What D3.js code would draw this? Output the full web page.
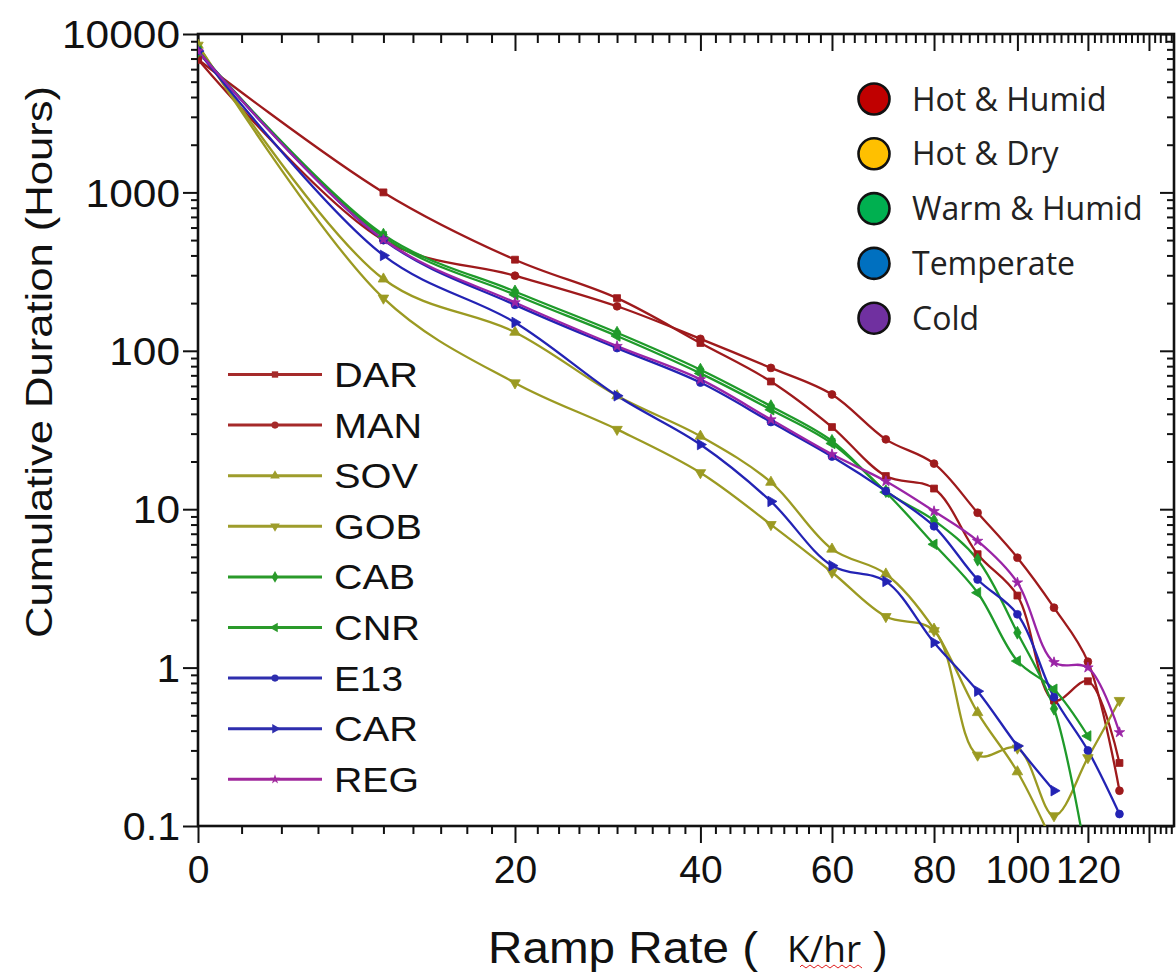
<!DOCTYPE html>
<html><head><meta charset="utf-8">
<script src="https://cdn.jsdelivr.net/npm/d3@7"></script>
<style>
html,body{margin:0;padding:0;background:#fff;}
svg{display:block;}
</style>
</head><body>
<svg id="chart" width="1176" height="974"></svg>
<script>
// ---------- data ----------
const rampRates = [0,10,20,30,40,50,60,70,80,90,100,110,120,130];
const seriesNames = ["DAR","MAN","SOV","GOB","CAB","CNR","E13","CAR","REG"];
const DAR = [6900,1000,376,215,112,64,33,16.2,13.5,5.2,2.85,0.62,0.82,0.25];
const MAN = [6900,500,298,191,119,78,53,27.6,19.4,9.5,4.94,2.39,1.09,0.167];
const SOV = [8500,284,131,52,28.9,14.8,5.6,3.9,1.75,0.52,0.22,0.075];
const GOB = [8500,215,62.7,31.9,17,8.0,4.0,2.1,1.71,0.28,0.31,0.116,0.27,0.62];
const CAB = [7800,541,237,130,76,44.7,27,13,8.5,4.8,1.66,0.55,0.055];
const CNR = [7800,525,226,124,72,42.5,26,12.8,6.0,2.97,1.10,0.73,0.37];
const E13 = [7800,500,195,104,63,35.5,21.5,13,7.8,3.6,2.17,0.65,0.30,0.119];
const CAR = [7800,400,151,52,25.6,11.2,4.4,3.5,1.44,0.71,0.32,0.167];
const REG = [7800,504,202,107,66,36.8,22.2,15,9.7,6.3,3.44,1.08,1.0,0.39];
const seriesValues = [DAR,MAN,SOV,GOB,CAB,CNR,E13,CAR,REG];

const xTickMajor = [0,20,40,60,80,100,120,140];
const xTickLabels = ["0","20","40","60","80","100","120",""];
const yTickMajor = [0.1,1,10,100,1000,10000];
const yTickLabels = ["0.1","1","10","100","1000","10000"];
const climateNames = ["Hot & Humid","Hot & Dry","Warm & Humid","Temperate","Cold"];

// ---------- styles ----------
const seriesColors = ["#9e1a1c","#9e1a1c","#9b9a22","#9b9a22","#1f9a2a","#1f9a2a","#2323b4","#2323b4","#9a24a6"];
const legendLineColors = ["#a52a2a","#a52a2a","#9e9d2c","#9e9d2c","#2a9a2a","#2a9a2a","#2e2eae","#2e2eae","#a0289c"];
const markerTypes = ["square","circle","up","down","diamond","left","circle","right","star"];
const climateColors = ["#c00000","#ffc000","#00b050","#0070c0","#7030a0"];

const W = 1176, H = 974;
const L = 198, R = 1174, T = 34, B = 826;
const svg = d3.select("#chart");

const x = d3.scaleSymlog().constant(20).domain([0,149]).range([L,R]);
const y = d3.scaleLog().domain([0.1,10000]).range([B,T]);

const xMinor = d3.range(0,149,2).filter(v => v % 20 !== 0);
const yMinor = [];
[0.1,1,10,100,1000].forEach(d => { for (let k=2;k<=9;k++) yMinor.push(+(d*k).toPrecision(3)); });

// clip
svg.append("defs").append("clipPath").attr("id","plotclip")
  .append("rect").attr("x",L).attr("y",T).attr("width",R-L).attr("height",B-T);

function styleAxis(g){
  g.select(".domain").remove();
  g.selectAll(".tick line").attr("stroke","#111").attr("stroke-width",2);
}

// bottom
const gb = svg.append("g").attr("transform",`translate(0,${B})`)
  .call(d3.axisBottom(x).tickValues(xTickMajor).tickSize(17).tickPadding(12)
    .tickFormat((d,i)=>xTickLabels[i]));
styleAxis(gb);
gb.selectAll("text").attr("font-family","'Liberation Sans', Arial, sans-serif").attr("font-size",39).attr("fill","#111");
const gbm = svg.append("g").attr("transform",`translate(0,${B})`)
  .call(d3.axisBottom(x).tickValues(xMinor).tickSize(8).tickFormat(""));
styleAxis(gbm);
// top
const gt = svg.append("g").attr("transform",`translate(0,${T})`)
  .call(d3.axisTop(x).tickValues(xTickMajor).tickSize(-17).tickFormat(""));
styleAxis(gt);
const gtm = svg.append("g").attr("transform",`translate(0,${T})`)
  .call(d3.axisTop(x).tickValues(xMinor).tickSize(-9).tickFormat(""));
styleAxis(gtm);
// left
const gl = svg.append("g").attr("transform",`translate(${L},0)`)
  .call(d3.axisLeft(y).tickValues(yTickMajor).tickSize(15).tickPadding(3)
    .tickFormat((d,i)=>yTickLabels[i]));
styleAxis(gl);
gl.selectAll("text").attr("font-family","'Liberation Sans', Arial, sans-serif").attr("font-size",38).attr("fill","#111")
  .attr("dy","0.36em")
  .attr("textLength",function(){ return this.textContent.replace(".","").length*23.6 + (this.textContent.includes(".")?10:0); })
  .attr("lengthAdjust","spacingAndGlyphs");
const glm = svg.append("g").attr("transform",`translate(${L},0)`)
  .call(d3.axisLeft(y).tickValues(yMinor).tickSize(7).tickFormat(""));
styleAxis(glm);
// right
const gr = svg.append("g").attr("transform",`translate(${R},0)`)
  .call(d3.axisRight(y).tickValues(yTickMajor).tickSize(-14).tickFormat(""));
styleAxis(gr);
const grm = svg.append("g").attr("transform",`translate(${R},0)`)
  .call(d3.axisRight(y).tickValues(yMinor).tickSize(-7).tickFormat(""));
styleAxis(grm);

// frame
svg.append("rect").attr("x",L).attr("y",T).attr("width",R-L).attr("height",B-T)
  .attr("fill","none").attr("stroke","#111").attr("stroke-width",2.6);

// markers
function symbolPath(type, size){
  let t = d3.symbolTriangle, rot = 0;
  if (type==="square") t = d3.symbolSquare;
  else if (type==="circle") t = d3.symbolCircle;
  else if (type==="diamond") t = d3.symbolDiamond;
  else if (type==="star") t = d3.symbolStar;
  else if (type==="down") rot = 180;
  else if (type==="left") rot = -90;
  else if (type==="right") rot = 90;
  return {d: d3.symbol().type(t).size(size)(), rot};
}

// lines
const plot = svg.append("g").attr("clip-path","url(#plotclip)");
const line = d3.line().x(d=>x(d[0])).y(d=>y(d[1])).curve(d3.curveCatmullRom.alpha(0.5));
seriesValues.forEach((vals,i)=>{
  const pts = vals.map((v,j)=>[rampRates[j], v]);
  plot.append("path").datum(pts).attr("d",line)
    .attr("fill","none").attr("stroke",seriesColors[i]).attr("stroke-width",2.3);
});
seriesValues.forEach((vals,i)=>{
  const sp = symbolPath(markerTypes[i], markerTypes[i]==="star"?34:48);
  vals.forEach((v,j)=>{
    plot.append("path").attr("d",sp.d)
      .attr("transform",`translate(${x(rampRates[j])},${y(v)}) rotate(${sp.rot})`)
      .attr("fill",seriesColors[i]).attr("stroke",seriesColors[i]).attr("stroke-width",0.8);
  });
});

// series legend
const legTextLen = {DAR:84,MAN:88,SOV:84,GOB:88,CAB:81,CNR:86,E13:69,CAR:84,REG:85};
seriesNames.forEach((n,i)=>{
  const yy = 374.5 + i*50.6;
  const g = svg.append("g");
  g.append("line").attr("x1",228).attr("x2",322).attr("y1",yy).attr("y2",yy)
    .attr("stroke",legendLineColors[i]).attr("stroke-width",3);
  const sp = symbolPath(markerTypes[i], markerTypes[i]==="star"?30:40);
  g.append("path").attr("d",sp.d).attr("transform",`translate(275,${yy}) rotate(${sp.rot})`)
    .attr("fill",legendLineColors[i]);
  g.append("text").attr("x",334).attr("y",yy+12.5).text(n)
    .attr("font-family","'Liberation Sans', Arial, sans-serif").attr("font-size",35).attr("fill","#111")
    .attr("textLength",legTextLen[n]).attr("lengthAdjust","spacingAndGlyphs");
});

// climate legend
climateNames.forEach((n,i)=>{
  const cy = 99 + i*54.8;
  svg.append("circle").attr("cx",874).attr("cy",cy).attr("r",15.5)
    .attr("fill",climateColors[i]).attr("stroke","#111").attr("stroke-width",2.6);
  svg.append("text").attr("x",912).attr("y",cy+11.5).text(n)
    .attr("font-family","'Open Sans', sans-serif").attr("font-size",32).attr("fill","#222");
});

// axis titles
svg.append("text").attr("transform","translate(52,362) rotate(-90)")
  .attr("text-anchor","middle").text("Cumulative Duration (Hours)")
  .attr("font-family","'Liberation Sans', Arial, sans-serif").attr("font-size",37).attr("fill","#111")
  .attr("textLength",552).attr("lengthAdjust","spacingAndGlyphs");

svg.append("text").attr("x",488).attr("y",963).text("Ramp Rate (")
  .attr("font-family","'Liberation Sans', Arial, sans-serif").attr("font-size",44).attr("fill","#111")
  .attr("textLength",270).attr("lengthAdjust","spacingAndGlyphs");
svg.append("text").attr("x",787).attr("y",962).text("K/hr")
  .attr("font-family","'Open Sans', sans-serif").attr("font-size",37).attr("fill","#111");
svg.append("text").attr("x",873).attr("y",963).text(")")
  .attr("font-family","'Liberation Sans', Arial, sans-serif").attr("font-size",44).attr("fill","#111");
// spell-check squiggle under "hr"
const sq = d3.path();
sq.moveTo(800,967);
for (let k=0;k<16;k++){ sq.lineTo(802+k*4,(k%2===0)?965:968); }
svg.append("path").attr("d",sq.toString()).attr("fill","none").attr("stroke","#e02020").attr("stroke-width",1);
</script>
</body></html>
